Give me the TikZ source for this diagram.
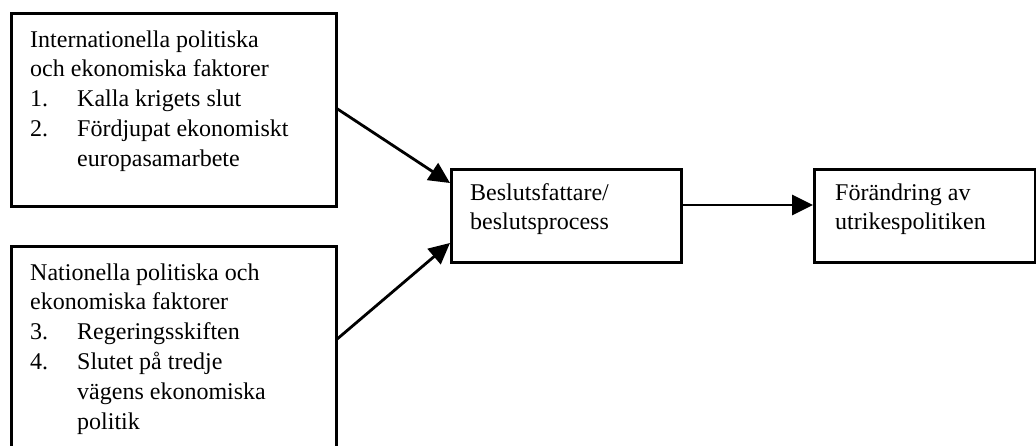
\documentclass[tikz,border=0pt]{standalone}
\usepackage{fontspec}
\setmainfont{Liberation Serif}
\usetikzlibrary{arrows.meta}
\begin{document}
\begin{tikzpicture}[x=1pt,y=-1pt,
  boxstyle/.style={draw,line width=2.8pt,inner sep=0pt},
  txt/.style={anchor=base west,inner sep=0pt,font=\fontsize{24}{29.8}\selectfont},
  conn/.style={line width=2.8pt,-{Triangle[length=21pt,width=20pt]}}]
\useasboundingbox (0,0) rectangle (1036,445);
\clip (0,0) rectangle (1036,445);
\node[boxstyle,minimum width=325pt,minimum height=193pt,anchor=north west] (b1) at (10,12) {};
\node[boxstyle,minimum width=325pt,minimum height=230pt,anchor=north west] (b2) at (10,245) {};
\node[boxstyle,minimum width=230pt,minimum height=93pt,anchor=north west] (b3) at (450,168) {};
\node[boxstyle,minimum width=221pt,minimum height=93pt,anchor=north west] (b4) at (813,168) {};
\node[txt] (t1) at (30,47) {\begin{tabular}[t]{@{}p{47pt}@{}l@{}}
\multicolumn{2}{@{}l@{}}{Internationella politiska}\\
\multicolumn{2}{@{}l@{}}{och ekonomiska faktorer}\\
1. & Kalla krigets slut\\
2. & Fördjupat ekonomiskt\\
   & europasamarbete
\end{tabular}};
\node[txt] (t2) at (30,280) {\begin{tabular}[t]{@{}p{47pt}@{}l@{}}
\multicolumn{2}{@{}l@{}}{Nationella politiska och}\\
\multicolumn{2}{@{}l@{}}{ekonomiska faktorer}\\
3. & Regeringsskiften\\
4. & Slutet på tredje\\
   & vägens ekonomiska\\
   & politik
\end{tabular}};
\node[txt] (t3) at (470,200) {\begin{tabular}[t]{@{}l@{}}
Beslutsfattare/\\ beslutsprocess\end{tabular}};
\node[txt] (t4) at (835,200) {\begin{tabular}[t]{@{}l@{}}
Förändring av\\ utrikespolitiken\end{tabular}};
\coordinate (s1) at (336,108);
\coordinate (e1) at (450,183);
\coordinate (s2) at (336,340);
\coordinate (e2) at (450,243);
\coordinate (s3) at (680,205);
\coordinate (e3) at (813,205);
\draw[conn] (s1) -- (e1);
\draw[conn] (s2) -- (e2);
\draw[conn] (s3) -- (e3);
\end{tikzpicture}
\end{document}
